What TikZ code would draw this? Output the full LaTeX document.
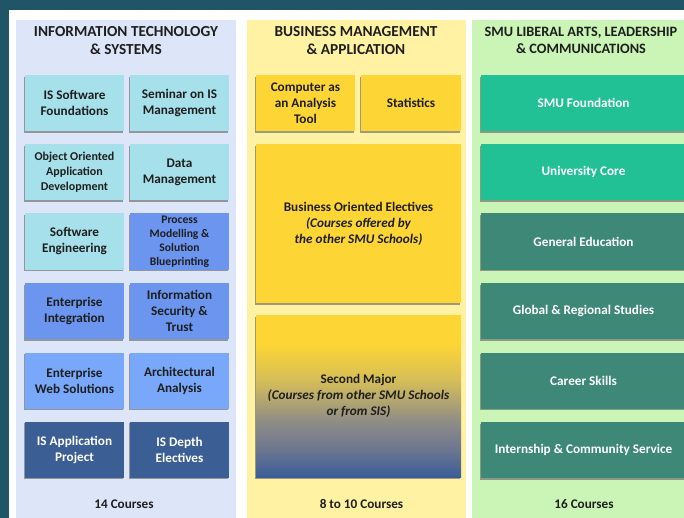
\documentclass[tikz,border=0pt]{standalone}
\usepackage{fontspec}
\setmainfont{Carlito}
\usetikzlibrary{shadows}
\definecolor{bgteal}{HTML}{1F5566}
\definecolor{leftpanel}{HTML}{DDE6F9}
\definecolor{midpanel}{HTML}{FFF2A3}
\definecolor{rightpanel}{HTML}{CAF5B6}
\definecolor{cyanbox}{HTML}{A6E1EB}
\definecolor{bluebox}{HTML}{6C95EF}
\definecolor{lightblue}{HTML}{79A8FA}
\definecolor{darkblue}{HTML}{3B5F95}
\definecolor{gold}{HTML}{FDD535}
\definecolor{tealA}{HTML}{22C195}
\definecolor{tealB}{HTML}{3E8877}
\definecolor{txt}{HTML}{1E1E1E}
\definecolor{smblue}{HTML}{3A5D98}
\definecolor{smmid}{HTML}{6A7590}
\definecolor{smgray}{HTML}{8E8C86}
\definecolor{smtan}{HTML}{D6BE58}
\pgfdeclareverticalshading{secmaj}{100bp}{color(0bp)=(smblue); color(25bp)=(smblue); color(33bp)=(smmid); color(42bp)=(smgray); color(55bp)=(smtan); color(66bp)=(gold); color(100bp)=(gold)}
\begin{document}
\begin{tikzpicture}[x=1pt,y=-1pt,
  cell/.style={inner sep=1pt, align=center, text=txt,
    font=\bfseries\fontsize{13.2}{16}\selectfont,
    drop shadow={shadow xshift=-1.5pt, shadow yshift=-1.8pt, opacity=0.7, fill=black!55}},
  lcell/.style={cell, minimum width=99pt, minimum height=56pt},
  small/.style={font=\bfseries\fontsize{11.6}{14}\selectfont},
  smallb/.style={font=\bfseries\fontsize{12}{15}\selectfont},
  rcell/.style={cell, minimum width=205pt, minimum height=56pt, text=white},
  title/.style={align=center, text=txt, font=\bfseries\fontsize{15.3}{18}\selectfont},
  count/.style={text=txt, font=\bfseries\fontsize{13.2}{15}\selectfont}]
\useasboundingbox (0,0) rectangle (684,518);
\clip (0,0) rectangle (684,518);
\fill[bgteal] (0,0) rectangle (684,518);
\fill[white] (9,10) rectangle (684,518);
\fill[leftpanel] (16,20) rectangle (236,518);
\fill[midpanel] (247,20) rectangle (466,518);
\fill[rightpanel] (472,20) rectangle (684,518);
% titles
\node[title] (t1) at (126,41) {INFORMATION TECHNOLOGY\\\& SYSTEMS};
\node[title] (t2) at (356,41) {BUSINESS MANAGEMENT\\\& APPLICATION};
\node[title, font=\bfseries\fontsize{14.3}{17}\selectfont] (t3) at (581,40) {SMU LIBERAL ARTS, LEADERSHIP\\\& COMMUNICATIONS};
% left column
\node[lcell, fill=cyanbox] (a1) at (74.5,103) {IS Software\\Foundations};
\node[lcell, fill=cyanbox] (b1) at (179.5,103) {Seminar on IS\\Management};
\node[lcell, fill=cyanbox, smallb] (a2) at (74.5,172) {Object Oriented\\Application\\Development};
\node[lcell, fill=cyanbox] (b2) at (179.5,172) {Data\\Management};
\node[lcell, fill=cyanbox] (a3) at (74.5,241.5) {Software\\Engineering};
\node[lcell, fill=bluebox, small] (b3) at (179.5,241.5) {Process\\Modelling \&\\Solution\\Blueprinting};
\node[lcell, fill=bluebox] (a4) at (74.5,311) {Enterprise\\Integration};
\node[lcell, fill=bluebox] (b4) at (179.5,311) {Information\\Security \&\\Trust};
\node[lcell, fill=lightblue] (a5) at (74.5,380.5) {Enterprise\\Web Solutions};
\node[lcell, fill=lightblue] (b5) at (179.5,380.5) {Architectural\\Analysis};
\node[lcell, fill=darkblue, text=white] (a6) at (74.5,449.5) {IS Application\\Project};
\node[lcell, fill=darkblue, text=white] (b6) at (179.5,449.5) {IS Depth\\Electives};
\node[count] (c1) at (124,504) {14 Courses};
% middle column
\node[cell, fill=gold, minimum width=99pt, minimum height=56pt] (m1) at (305.5,103) {Computer as\\an Analysis\\Tool};
\node[cell, fill=gold, minimum width=100pt, minimum height=56pt] (m2) at (411,103) {Statistics};
\node[cell, fill=gold, minimum width=205pt, minimum height=159pt] (m3) at (358.5,223.5) {Business Oriented Electives\\\itshape (Courses offered by\\\itshape the other SMU Schools)};
\node[cell, shade, shading=secmaj, minimum width=205pt, minimum height=162pt] (m4) at (358.5,396) {Second Major\\\itshape (Courses from other SMU Schools\\\itshape or from SIS)};
\node[count] (c2) at (361.5,504) {8 to 10 Courses};
% right column
\node[rcell, fill=tealA] (r1) at (583.5,103) {SMU Foundation};
\node[rcell, fill=tealA] (r2) at (583.5,172) {University Core};
\node[rcell, fill=tealB] (r3) at (583.5,241.5) {General Education};
\node[rcell, fill=tealB] (r4) at (583.5,311) {Global \& Regional Studies};
\node[rcell, fill=tealB] (r5) at (583.5,380.5) {Career Skills};
\node[rcell, fill=tealB] (r6) at (583.5,450) {Internship \& Community Service};
\node[count] (c3) at (584,504) {16 Courses};
\end{tikzpicture}
\end{document}
